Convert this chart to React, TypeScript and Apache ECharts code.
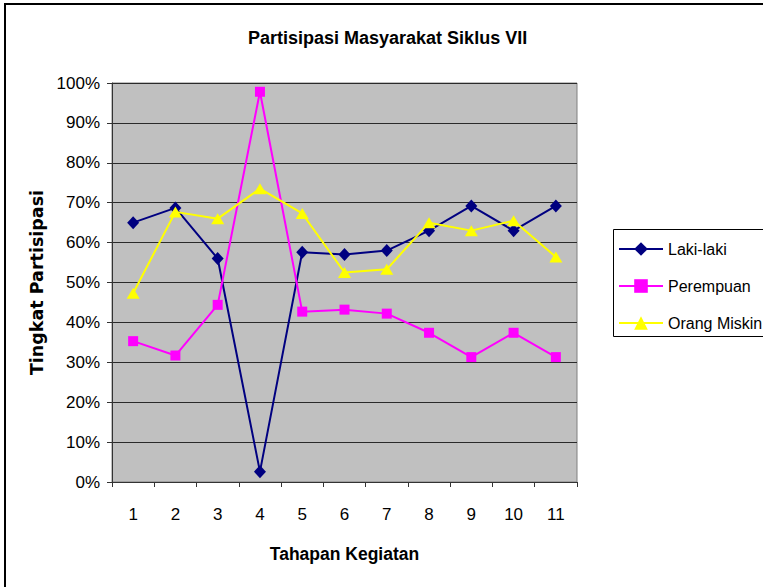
import React, { useEffect, useRef } from "react";
import * as echarts from "echarts";

const categories = ["1", "2", "3", "4", "5", "6", "7", "8", "9", "10", "11"];
const lakiLaki = [65.0, 68.7, 56.0, 2.6, 57.6, 57.0, 58.0, 63.0, 69.2, 63.0, 69.2];
const perempuan = [35.3, 31.7, 44.4, 97.8, 42.7, 43.2, 42.2, 37.4, 31.3, 37.4, 31.3];
const orangMiskin = [47.3, 67.7, 66.0, 73.5, 67.3, 52.5, 53.3, 65.0, 63.0, 65.5, 56.4];
const seriesNames = ["Laki-laki", "Perempuan", "Orang Miskin"];
const titleText = "Partisipasi Masyarakat Siklus VII";
const xName = "Tahapan Kegiatan";
const yName = "Tingkat Partisipasi";

const FONT = "'Liberation Sans', Arial, sans-serif";

export default function App() {
  const ref = useRef<HTMLDivElement>(null);
  useEffect(() => {
    if (!ref.current) return;
    const chart = echarts.init(ref.current, undefined, { renderer: "svg" });
    chart.setOption({
      animation: false,
      backgroundColor: "#ffffff",
      title: {
        text: titleText,
        left: 248,
        top: 29,
        padding: 0,
        textStyle: { fontFamily: FONT, fontSize: 18, fontWeight: "bold", color: "#000" },
      },
      legend: {
        orient: "vertical",
        left: 618,
        top: 241,
        padding: 0,
        itemWidth: 44,
        itemHeight: 17,
        itemGap: 21,
        data: seriesNames,
        textStyle: { fontFamily: FONT, fontSize: 16, color: "#000", lineHeight: 16, padding: [0, 0, 0, 0] },
      },
      graphic: [
        {
          type: "rect",
          shape: { x: 5, y: 4, width: 800, height: 700 },
          style: { fill: "none", stroke: "#000", lineWidth: 2 },
          silent: true,
        },
        {
          type: "rect",
          shape: { x: 613.5, y: 229.5, width: 200, height: 107 },
          style: { fill: "none", stroke: "#000", lineWidth: 1 },
          silent: true,
        },
      ],
      grid: {
        left: 112,
        top: 83,
        right: 186,
        bottom: 105,
        show: true,
        backgroundColor: "#c0c0c0",
        borderColor: "#808080",
        borderWidth: 1,
      },
      xAxis: {
        type: "category",
        data: categories,
        boundaryGap: true,
        name: xName,
        nameLocation: "middle",
        nameGap: 63,
        nameTextStyle: { fontFamily: FONT, fontSize: 17.5, fontWeight: "bold", color: "#000" },
        axisLine: { lineStyle: { color: "#333", width: 1 } },
        axisTick: { show: true, length: 5, interval: 0, lineStyle: { color: "#333" } },
        axisLabel: { margin: 24, fontFamily: FONT, fontSize: 17, color: "#000", interval: 0 },
        splitLine: { show: false },
      },
      yAxis: {
        type: "value",
        min: 0,
        max: 100,
        interval: 10,
        name: yName,
        nameLocation: "middle",
        nameGap: 64,
        nameTextStyle: { fontFamily: "'DejaVu Sans', sans-serif", fontSize: 17.5, fontWeight: "bold", color: "#000" },
        axisLine: { show: true, lineStyle: { color: "#333", width: 1 } },
        axisTick: { show: true, length: 5, lineStyle: { color: "#333" } },
        axisLabel: { margin: 12, fontFamily: FONT, fontSize: 17, color: "#000", formatter: "{value}%" },
        splitLine: { show: true, lineStyle: { color: "#2a2a2a", width: 1 } },
      },
      series: [
        {
          name: seriesNames[0],
          type: "line",
          data: lakiLaki,
          symbol: "diamond",
          symbolSize: [12, 13],
          lineStyle: { color: "#000080", width: 2 },
          itemStyle: { color: "#000080" },
        },
        {
          name: seriesNames[1],
          type: "line",
          data: perempuan,
          symbol: "rect",
          symbolSize: 10,
          lineStyle: { color: "#ff00ff", width: 2 },
          itemStyle: { color: "#ff00ff" },
        },
        {
          name: seriesNames[2],
          type: "line",
          data: orangMiskin,
          symbol: "triangle",
          symbolSize: [13, 11],
          lineStyle: { color: "#ffff00", width: 2 },
          itemStyle: { color: "#ffff00" },
        },
      ],
    });
    return () => chart.dispose();
  }, []);
  return (
    <div style={{ position: "absolute", left: 0, top: 0, width: 763, height: 587, overflow: "hidden" }}>
      <div ref={ref} style={{ width: 763, height: 587 }} />
    </div>
  );
}
